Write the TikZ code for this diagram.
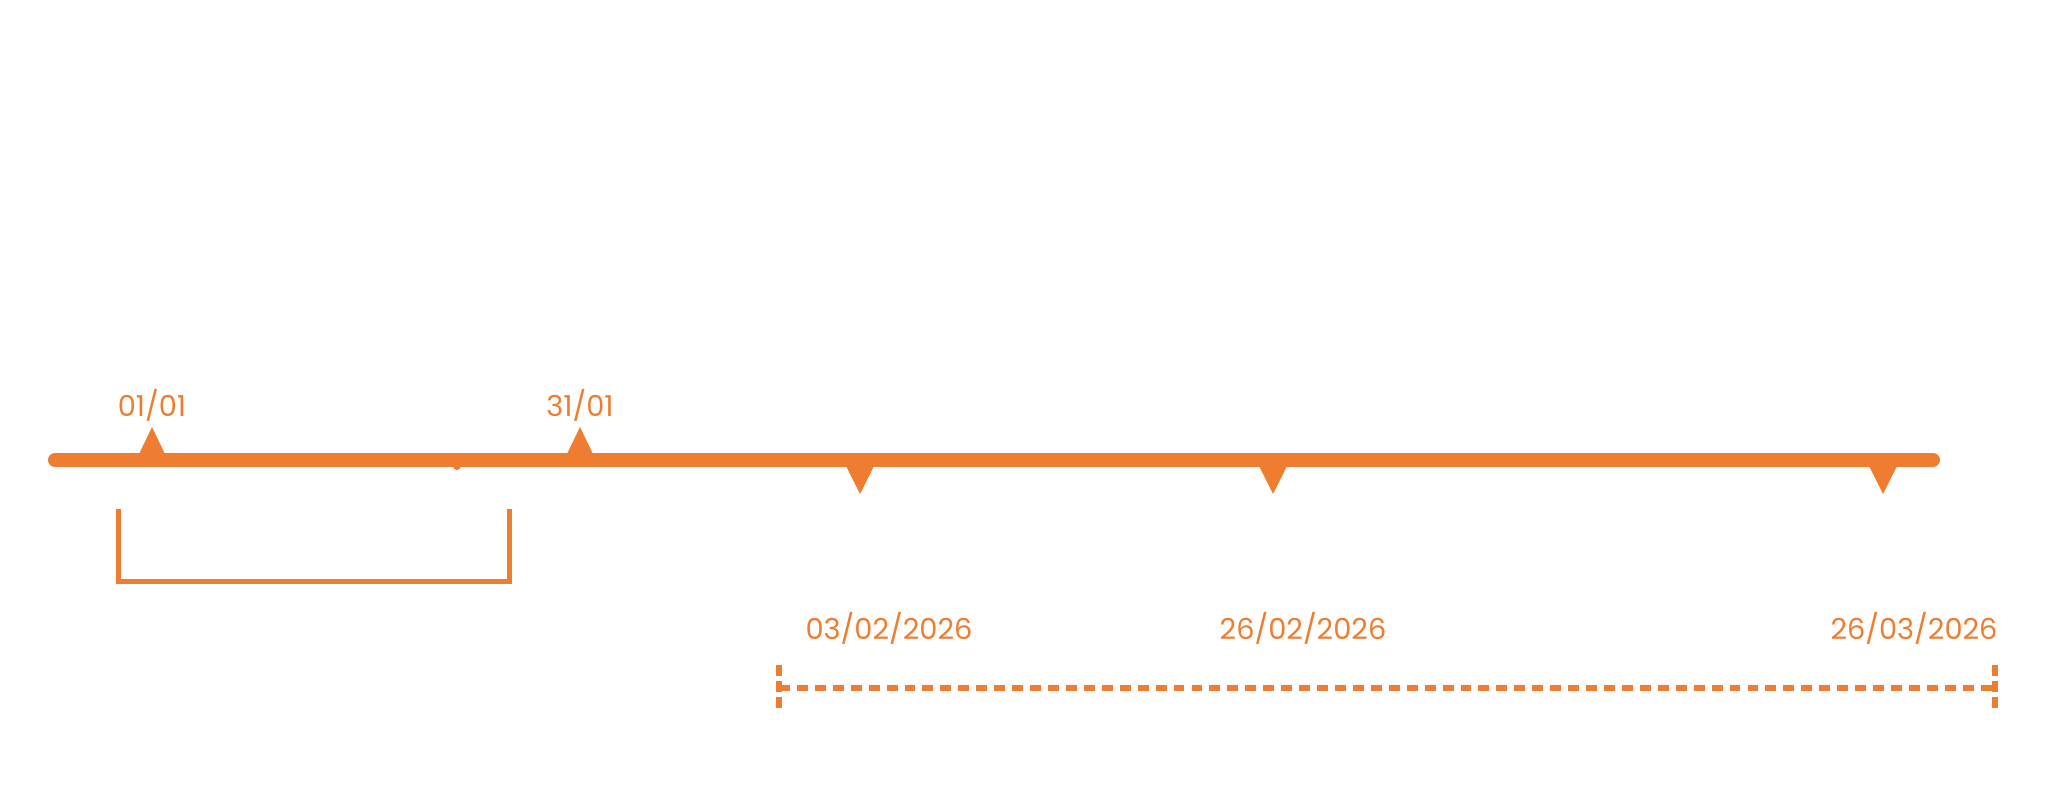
\documentclass[tikz,border=0pt]{standalone}
\usepackage{fontspec}
\setmainfont{Poppins}
\usepackage{xcolor}
\usetikzlibrary{positioning}
\definecolor{tlorange}{HTML}{EF7D31}

\begin{document}
\begin{tikzpicture}[x=0.01cm, y=-0.01cm]
\tikzset{mainline/.style = {line width=0.14cm, tlorange, line cap=round},
	bracketline/.style = {line width=0.05cm, tlorange},
	dashline/.style = {line width=0.06cm, tlorange, dash pattern=on 3.1pt off 2pt},
	dashtick/.style = {line width=0.06cm, tlorange, dash pattern=on 3.1pt off 1.5pt},
	datelabel/.style = {text=tlorange, font=\fontsize{8.2}{10}\selectfont, inner sep=0pt, anchor=base}}
\useasboundingbox (0,0) rectangle (2058,796);
	% timeline
	\coordinate (start) at (55,460);
	\coordinate (stop) at (1933,460);
	\coordinate (m1) at (152,460);
	\coordinate (m2) at (580,460);
	\coordinate (m3) at (860,460);
	\coordinate (m4) at (1273,460);
	\coordinate (m5) at (1883,460);
	\coordinate (dot) at (457,466);
	% labels
	\node[datelabel] (l1) at (152,416) {01/01};
	\node[datelabel] (l2) at (580,416) {31/01};
	\node[datelabel] (l3) at (889,639) {03/02/2026};
	\node[datelabel] (l4) at (1303,639) {26/02/2026};
	\node[datelabel] (l5) at (1914,639) {26/03/2026};
	% bracket and range
	\coordinate (bl) at (118,509);
	\coordinate (br) at (509,509);
	\coordinate (r1) at (779,688);
	\coordinate (r2) at (1995,688);
	%edges
	\draw[mainline] (start) -- (stop);
	\fill[tlorange] (dot) circle (0.04cm);
	\foreach \m in {m1, m2}
		\fill[tlorange] (\m) ++(-13,-6) -- ++(13,-27) -- ++(13,27) -- cycle;
	\foreach \m in {m3, m4, m5}
		\fill[tlorange] (\m) ++(-14,6) -- ++(14,28) -- ++(14,-28) -- cycle;
	\draw[bracketline] (bl) -- ++(0,72) -| (br);
	\draw[dashline] (r1) -- (r2);
	\draw[dashtick] (r1) ++(0,-23) -- ++(0,46);
	\draw[dashtick] (r2) ++(0,-23) -- ++(0,46);
\end{tikzpicture}
\end{document}
